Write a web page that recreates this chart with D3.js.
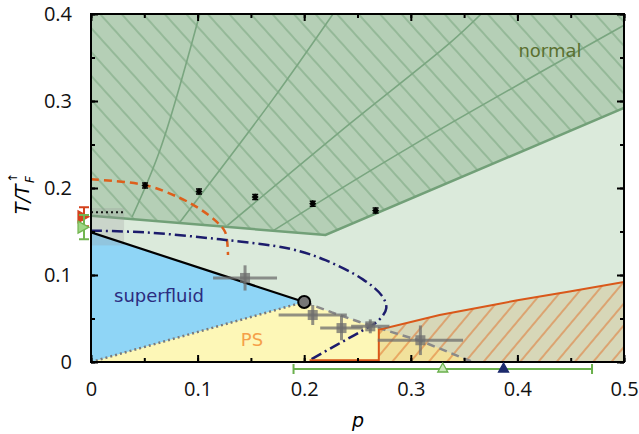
<!DOCTYPE html>
<html>
<head>
<meta charset="utf-8">
<script src="https://cdn.jsdelivr.net/npm/d3@7"></script>
<style>
  body { margin: 0; background: #fff; }
  svg { display: block; }
</style>
</head>
<body>
<svg width="639" height="434"></svg>
<script>
// phase diagram data (p, T/TF)
var normalEdge = [[0, 0.168], [0.22, 0.146], [0.5, 0.292]];
var sfEdge = [[0, 0.149], [0.2, 0.069]];
var psEdge = [[0.2, 0.069], [0.226, 0.057], [0.252, 0.046], [0.283, 0.034], [0.31, 0.024], [0.358, 0]];
var orangeEdge = [[0.205, 0.002], [0.27, 0.002], [0.27, 0.037], [0.327, 0.054], [0.377, 0.0655], [0.40, 0.071], [0.449, 0.081], [0.5, 0.092]];
var navyCurve = [[0, 0.151], [0.05, 0.149], [0.121, 0.141], [0.187, 0.13], [0.22, 0.117], [0.255, 0.095],
  [0.273, 0.076], [0.277, 0.062], [0.27, 0.048], [0.253, 0.035], [0.231, 0.02], [0.205, 0.002]];
var orangeDashed = [[0, 0.21], [0.0507, 0.2034], [0.0835, 0.1885], [0.102, 0.176], [0.118, 0.161], [0.126, 0.149], [0.1285, 0.123]];
var contourA = [[0.102, 0.4], [0.0647, 0.2437], [0.0385, 0.1667]];
var contourB = [[0.227, 0.4], [0.170, 0.301], [0.0835, 0.161]];
var contourC = [[0.366, 0.4], [0.337, 0.367], [0.236, 0.267], [0.128, 0.157]];
var contourD = [[0.5, 0.387], [0.299, 0.247], [0.171, 0.151]];
var qmcP = [0.1445, 0.208, 0.235, 0.262, 0.309];
var qmcT = [0.0966, 0.054, 0.039, 0.041, 0.025];
var qmcEp = [0.03, 0.032, 0.02, 0.018, 0.04];
var qmcEt = [0.0145, 0.0115, 0.014, 0.008, 0.017];
var blackP = [0.0507, 0.1013, 0.154, 0.208, 0.267];
var blackT = [0.203, 0.196, 0.1897, 0.182, 0.174];
var critPoint = [0.2, 0.069];
var leftT = [0.167, 0.155];
var leftErr = [0.011, 0.014];
var bottomBar = [0.19, 0.47];
var bottomMid = 0.33;
var bottomNavy = 0.387;
var xTicks = [0, 0.1, 0.2, 0.3, 0.4, 0.5];
var yTicks = [0, 0.1, 0.2, 0.3, 0.4];

var svg = d3.select('svg');
var x = d3.scaleLinear().domain([0, 0.5]).range([91, 624]);
var y = d3.scaleLinear().domain([0, 0.4]).range([362, 14]);

var line = d3.line().x(function(d){ return x(d[0]); }).y(function(d){ return y(d[1]); });
var smooth = d3.line().x(function(d){ return x(d[0]); }).y(function(d){ return y(d[1]); }).curve(d3.curveCatmullRom);

var defs = svg.append('defs');
defs.append('clipPath').attr('id', 'clip').append('rect')
  .attr('x', x(0)).attr('y', y(0.4)).attr('width', x(0.5) - x(0)).attr('height', y(0) - y(0.4));

var hg = defs.append('pattern').attr('id', 'hatchGreen').attr('patternUnits', 'userSpaceOnUse')
  .attr('width', 16).attr('height', 16).attr('patternTransform', 'rotate(-42)');
hg.append('line').attr('x1', 1).attr('y1', 0).attr('x2', 1).attr('y2', 16)
  .attr('stroke', '#7aa680').attr('stroke-width', 1.1);
var ho = defs.append('pattern').attr('id', 'hatchOrange').attr('patternUnits', 'userSpaceOnUse')
  .attr('width', 14).attr('height', 14).attr('patternTransform', 'rotate(40)');
ho.append('line').attr('x1', 1).attr('y1', 0).attr('x2', 1).attr('y2', 14)
  .attr('stroke', '#e0702a').attr('stroke-width', 1);

var g = svg.append('g').attr('clip-path', 'url(#clip)');

// background
g.append('rect').attr('x', x(0)).attr('y', y(0.4)).attr('width', x(0.5) - x(0)).attr('height', y(0) - y(0.4))
  .attr('fill', '#dbeadb');

// normal region
var normalPoly = normalEdge.concat([[0.5, 0.4], [0, 0.4]]);
g.append('path').attr('d', line(normalPoly) + 'Z').attr('fill', '#b5cfb6');
g.append('path').attr('d', line(normalPoly) + 'Z').attr('fill', 'url(#hatchGreen)');
[contourA, contourB, contourC, contourD].forEach(function(c){
  g.append('path').attr('d', smooth(c)).attr('fill', 'none').attr('stroke', '#7aa680').attr('stroke-width', 1.6);
});
g.append('path').attr('d', line(normalEdge)).attr('fill', 'none').attr('stroke', '#72a078').attr('stroke-width', 2.5);

// PS and superfluid
g.append('path').attr('d', line([[0, 0]].concat(psEdge)) + 'Z').attr('fill', '#fdf7b7');
g.append('path').attr('d', line([[0, 0]].concat(sfEdge)) + 'Z').attr('fill', '#8fd5f6');

// hatched orange region
var orPoly = [[0.27, 0]].concat(orangeEdge.slice(2)).concat([[0.5, 0]]);
g.append('path').attr('d', line(orPoly) + 'Z').attr('fill', 'rgb(200,150,60)').attr('fill-opacity', 0.22);
g.append('path').attr('d', line(orPoly) + 'Z').attr('fill', 'url(#hatchOrange)');

// grey uncertainty box on the left
g.append('rect').attr('x', x(0)).attr('y', y(0.177)).attr('width', x(0.031) - x(0)).attr('height', y(0.134) - y(0.177))
  .attr('fill', '#999').attr('fill-opacity', 0.25);
g.append('path').attr('d', line([[0, 0.172], [0.031, 0.172]])).attr('stroke', '#111').attr('stroke-width', 2)
  .attr('stroke-dasharray', '2,3').attr('fill', 'none');

// boundaries
g.append('path').attr('d', line([[0, 0], critPoint])).attr('fill', 'none').attr('stroke', '#7a7a7a')
  .attr('stroke-width', 2.5).attr('stroke-dasharray', '2,3');
g.append('path').attr('d', line(sfEdge)).attr('fill', 'none').attr('stroke', '#000').attr('stroke-width', 2.2);
g.append('path').attr('d', line(psEdge)).attr('fill', 'none').attr('stroke', '#8a8a8a')
  .attr('stroke-width', 2.5).attr('stroke-dasharray', '8,5');
g.append('path').attr('d', smooth(orangeDashed)).attr('fill', 'none').attr('stroke', '#dd5f1b')
  .attr('stroke-width', 2.5).attr('stroke-dasharray', '8,5');
g.append('path').attr('d', smooth(navyCurve)).attr('fill', 'none').attr('stroke', '#1c1c6c')
  .attr('stroke-width', 2.5).attr('stroke-dasharray', '11,4,2,4');
g.append('path').attr('d', line(orangeEdge)).attr('fill', 'none').attr('stroke', '#d9581a').attr('stroke-width', 2);

// grey data points with error bars
var gq = g.append('g').attr('stroke', 'rgba(110,110,110,0.75)').attr('stroke-width', 3);
qmcP.forEach(function(p, i){
  gq.append('line').attr('x1', x(p - qmcEp[i])).attr('x2', x(p + qmcEp[i])).attr('y1', y(qmcT[i])).attr('y2', y(qmcT[i]));
  gq.append('line').attr('x1', x(p)).attr('x2', x(p)).attr('y1', y(qmcT[i] - qmcEt[i])).attr('y2', y(qmcT[i] + qmcEt[i]));
  gq.append('rect').attr('x', x(p) - 5).attr('y', y(qmcT[i]) - 5).attr('width', 10).attr('height', 10)
    .attr('fill', 'rgba(110,110,110,0.75)').attr('stroke', 'none');
});

// critical point
g.append('circle').attr('cx', x(critPoint[0])).attr('cy', y(critPoint[1])).attr('r', 6)
  .attr('fill', '#777').attr('stroke', '#000').attr('stroke-width', 2);

// small black points
blackP.forEach(function(p, i){
  var cx = x(p), cy = y(blackT[i]);
  g.append('path').attr('d', 'M' + (cx - 3) + ',' + (cy - 2.5) + 'h6M' + (cx - 3) + ',' + (cy + 2.5) + 'h6M' + cx + ',' + (cy - 2.5) + 'v5')
    .attr('stroke', '#000').attr('stroke-width', 1.5);
  g.append('rect').attr('x', cx - 2.5).attr('y', cy - 2.5).attr('width', 5).attr('height', 5)
    .attr('transform', 'rotate(45,' + cx + ',' + cy + ')').attr('fill', '#000');
});

// labels
svg.append('text').attr('x', 550).attr('y', 57).attr('text-anchor', 'middle')
  .attr('font-family', 'DejaVu Sans').attr('font-size', 18).attr('fill', '#5b7030').text('normal');
svg.append('text').attr('x', 159).attr('y', 302).attr('text-anchor', 'middle')
  .attr('font-family', 'DejaVu Sans').attr('font-size', 18).attr('fill', '#2c2c80').text('superfluid');
svg.append('text').attr('x', 252).attr('y', 346).attr('text-anchor', 'middle')
  .attr('font-family', 'DejaVu Sans').attr('font-size', 18).attr('fill', '#f5a04a').text('PS');

// frame and ticks
svg.append('rect').attr('x', x(0)).attr('y', y(0.4)).attr('width', x(0.5) - x(0)).attr('height', y(0) - y(0.4))
  .attr('fill', 'none').attr('stroke', '#000').attr('stroke-width', 2);

var minorX = d3.range(0, 0.51, 0.05), minorY = d3.range(0, 0.41, 0.05);
function addAxis(axis, tr, vals, size, labels, fmt) {
  var a = svg.append('g').attr('transform', tr)
    .call(axis.tickValues(vals).tickSize(size).tickPadding(labels ? 12 : 0).tickFormat(labels ? fmt : ''));
  a.select('.domain').remove();
  a.selectAll('.tick line').attr('stroke', '#000').attr('stroke-width', 2);
  a.selectAll('.tick text').attr('font-family', 'Open Sans').attr('font-size', 20).attr('fill', '#111');
  return a;
}
var fmt = function(d){ return d === 0 ? '0' : d3.format('.1f')(d); };
addAxis(d3.axisBottom(x), 'translate(0,' + y(0) + ')', minorX, -4, false);
addAxis(d3.axisBottom(x), 'translate(0,' + y(0) + ')', xTicks, -7, true, fmt).selectAll('.tick text').attr('y', 20).attr('dy', '0.71em');
addAxis(d3.axisTop(x), 'translate(0,' + y(0.4) + ')', minorX, -4, false);
addAxis(d3.axisTop(x), 'translate(0,' + y(0.4) + ')', xTicks, -7, false);
addAxis(d3.axisLeft(y), 'translate(' + x(0) + ',0)', minorY, -4, false);
addAxis(d3.axisLeft(y), 'translate(' + x(0) + ',0)', yTicks, -7, true, fmt).selectAll('.tick text').attr('x', -19);
addAxis(d3.axisRight(y), 'translate(' + x(0.5) + ',0)', minorY, -4, false);
addAxis(d3.axisRight(y), 'translate(' + x(0.5) + ',0)', yTicks, -7, false);

// axis titles
svg.append('text').attr('x', 358).attr('y', 427).attr('text-anchor', 'middle')
  .attr('font-family', 'DejaVu Sans').attr('font-style', 'italic').attr('font-size', 19).text('p');
var yl = svg.append('g').attr('transform', 'translate(29,192) rotate(-90)');
yl.append('text').attr('x', -22).attr('y', 0).attr('font-family', 'DejaVu Sans').attr('font-style', 'italic')
  .attr('font-size', 19).text('T/T');
yl.append('text').attr('x', 9).attr('y', 5).attr('font-family', 'DejaVu Sans').attr('font-style', 'italic')
  .attr('font-size', 12).text('F');
yl.append('text').attr('x', 9).attr('y', -12).attr('font-family', 'DejaVu Sans')
  .attr('font-size', 12).text('\u2191');

// markers outside on the left
var leftCol = ['#d4421c', '#72b550'];
leftT.forEach(function(t, i){
  var cx = 84, cy = y(t);
  svg.append('path').attr('d', 'M' + cx + ',' + y(t - leftErr[i]) + 'V' + y(t + leftErr[i]) +
      'M' + (cx - 5) + ',' + y(t - leftErr[i]) + 'h10M' + (cx - 5) + ',' + y(t + leftErr[i]) + 'h10')
    .attr('stroke', leftCol[i]).attr('stroke-width', 2).attr('fill', 'none');
  svg.append('path').attr('d', 'M' + (cx - 6) + ',' + (cy - 6) + 'L' + (cx + 5) + ',' + cy + 'L' + (cx - 6) + ',' + (cy + 6) + 'Z')
    .attr('fill', i === 0 ? leftCol[0] : '#9fd685').attr('stroke', leftCol[i]).attr('stroke-width', 1.2);
});

// bottom bar with triangles
var by = 369;
svg.append('path').attr('d', 'M' + x(bottomBar[0]) + ',' + by + 'H' + x(bottomBar[1]) +
    'M' + x(bottomBar[0]) + ',' + (by - 5) + 'v10M' + x(bottomBar[1]) + ',' + (by - 5) + 'v10')
  .attr('stroke', '#6ab04c').attr('stroke-width', 2).attr('fill', 'none');
function tri(px, fill, stroke) {
  var cx = x(px);
  svg.append('path').attr('d', 'M' + (cx - 5) + ',' + (by + 3) + 'L' + cx + ',' + (by - 6) + 'L' + (cx + 5) + ',' + (by + 3) + 'Z')
    .attr('fill', fill).attr('stroke', stroke).attr('stroke-width', 1.3);
}
tri(bottomMid, '#c8e8b8', '#6ab04c');
tri(bottomNavy, '#1c2a6c', '#1c2a6c');
</script>
</body>
</html>
